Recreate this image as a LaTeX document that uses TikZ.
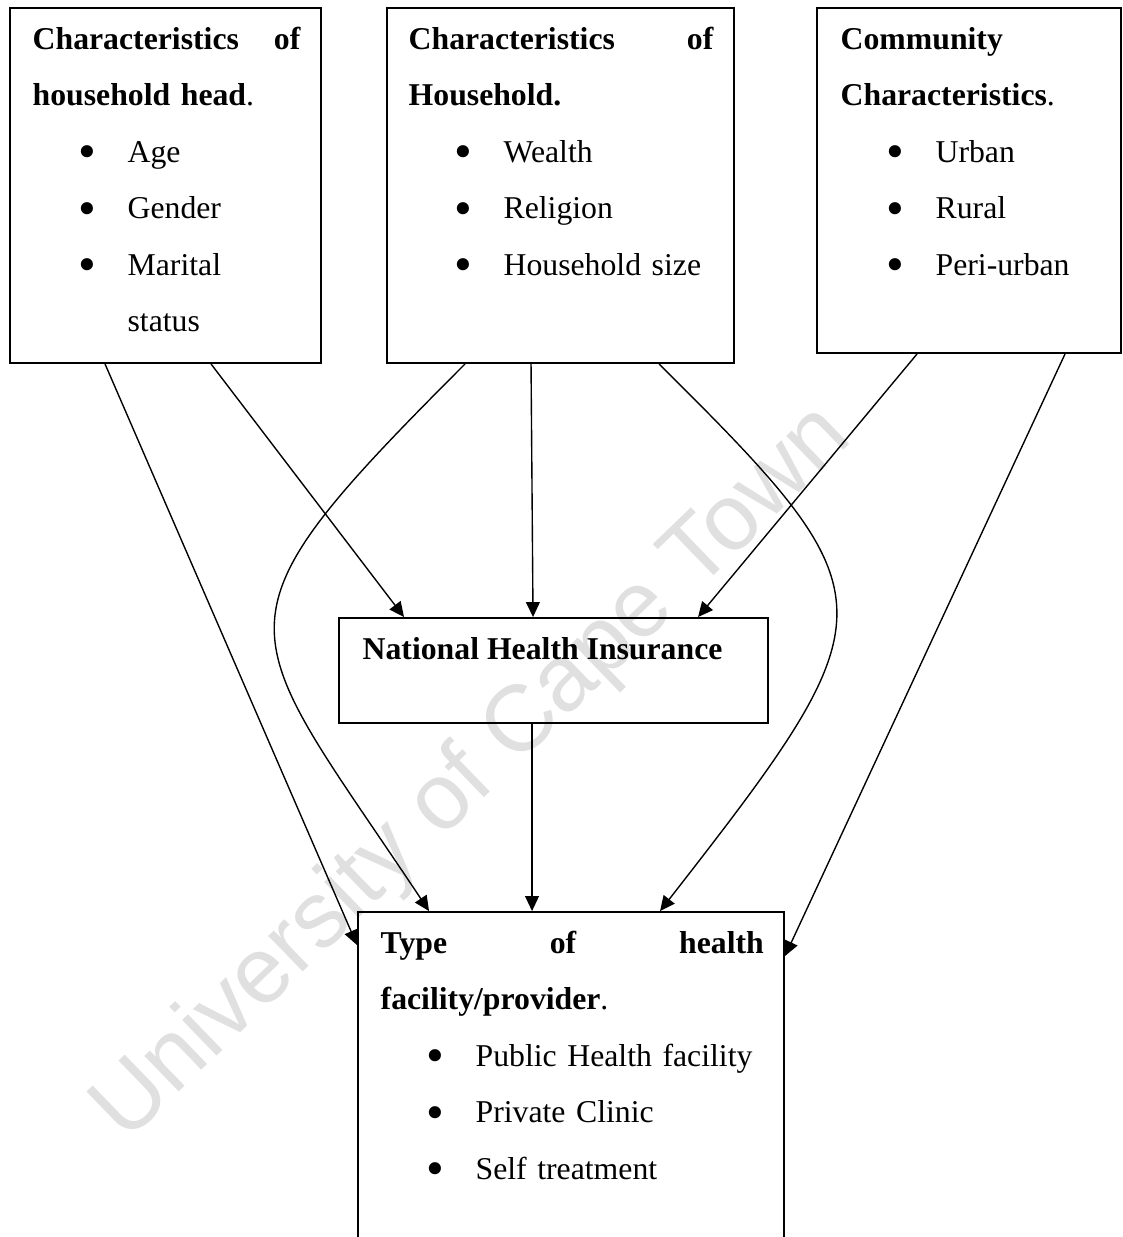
\documentclass[tikz,border=0pt]{standalone}
\usepackage{fontspec}
\setmainfont{Liberation Serif}
\newfontfamily\wmfont{Liberation Sans}
\usetikzlibrary{arrows.meta,positioning}

\newdimen\px \px=0.3623pt
\newcommand{\bulletitem}[1]{\hspace*{16.6pt}\makebox[17.8pt][l]{\raisebox{-2.4pt}{\scalebox{1.6}{\textbullet}}}#1}

\begin{document}
\begin{tikzpicture}[x=0.3623pt, y=-0.3623pt, ->, >={Triangle[length=5.4pt,width=5pt]}, line width=0.5pt,
    box/.style={draw, rectangle, line width=0.7pt, inner sep=0pt},
    boxtext/.style={anchor=base west, inner sep=0pt, font=\fontsize{11.5}{20.5}\selectfont},
    watermark/.style={anchor=base, rotate=44, text=black!12, font=\wmfont\fontsize{34}{34}\selectfont}]
		\useasboundingbox (0,0) rectangle (1123,1237);
		% Watermark
		\node[watermark] (Watermark) at (490,792) {University of Cape Town};
		
		% Define boxes
		\node[box, minimum width=311\px, minimum height=355\px] (Head_Chars) at (165.5,185.5) {};
		\node[box, minimum width=347\px, minimum height=355\px] (Household_Chars) at (560.5,185.5) {};
		\node[box, minimum width=304\px, minimum height=345\px] (Community_Chars) at (969,180.5) {};
		\node[box, minimum width=429\px, minimum height=105\px] (NHI) at (553.5,670.5) {};
		\node[box, minimum width=426\px, minimum height=348\px] (Facility_Type) at (571,1086) {};
		
		% Define texts
		\node[boxtext, text width=97.1pt] (Head_Text) at (32,49) {%
			\textbf{Characteristics}\hfill\textbf{of}\\
			\textbf{household head}.\\
			\bulletitem{Age}\\
			\bulletitem{Gender}\\
			\bulletitem{Marital}\\
			\hspace*{34.4pt}status};
		\node[boxtext, text width=110.5pt] (Household_Text) at (408,49) {%
			\textbf{Characteristics}\hfill\textbf{of}\\
			\textbf{Household.}\\
			\bulletitem{Wealth}\\
			\bulletitem{Religion}\\
			\bulletitem{Household size}};
		\node[boxtext, text width=95pt] (Community_Text) at (840,49) {%
			\textbf{Community}\\
			\textbf{Characteristics}.\\
			\bulletitem{Urban}\\
			\bulletitem{Rural}\\
			\bulletitem{Peri-urban}};
		\node[boxtext] (NHI_Text) at (362,659) {\textbf{National Health Insurance}};
		\node[boxtext, text width=138.8pt] (Facility_Text) at (380,953) {%
			\textbf{Type}\hfill\textbf{of}\hfill\textbf{health}\\
			\textbf{facility/provider}.\\
			\bulletitem{Public Health facility}\\
			\bulletitem{Private Clinic}\\
			\bulletitem{Self treatment}};
		
		% Define arrows
		\path
		([xshift=96\px]Head_Chars.south west) edge ([yshift=-34\px]Facility_Type.north west)
		([xshift=202\px]Head_Chars.south west) edge ([xshift=66\px]NHI.north west)
		([xshift=145\px]Household_Chars.south west) edge ([xshift=195\px]NHI.north west)
		([xshift=101\px]Community_Chars.south west) edge ([xshift=360\px]NHI.north west)
		([xshift=249\px]Community_Chars.south west) edge ([yshift=-45\px]Facility_Type.north east)
		([xshift=194\px]NHI.south west) edge ([xshift=175\px]Facility_Type.north west);
		\draw ([xshift=79\px]Household_Chars.south west) .. controls (200,629) and (236,621) .. ([xshift=72\px]Facility_Type.north west);
		\draw ([xshift=273\px]Household_Chars.south west) .. controls (895,598) and (894,611) .. ([xshift=303\px]Facility_Type.north west);
	\end{tikzpicture}
\end{document}
